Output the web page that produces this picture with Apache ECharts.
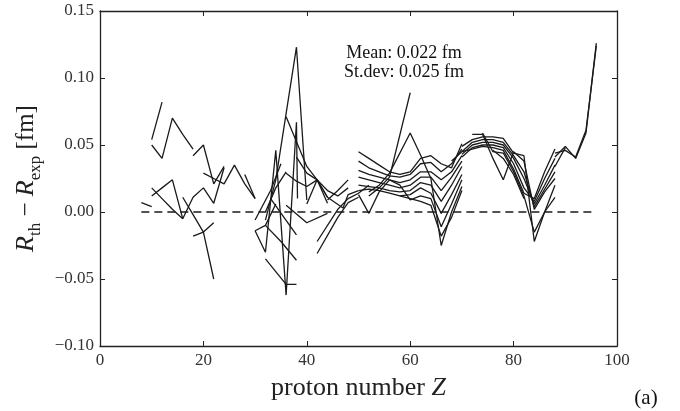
<!DOCTYPE html>
<html><head><meta charset="utf-8">
<script src="https://cdn.jsdelivr.net/npm/echarts/dist/echarts.min.js"></script>
<style>html,body{margin:0;padding:0;background:#fff}#c{width:680px;height:411px}</style>
</head><body><div id="c"></div>
<script>
// axis ranges / ticks
const xTicks = [0, 20, 40, 60, 80, 100];
const yTicks = [-0.10, -0.05, 0.00, 0.05, 0.10, 0.15];
const zeroLine = [[8, 0], [96, 0]];
const annotation = ['Mean: 0.022 fm', 'St.dev: 0.025 fm'];

// light nuclei chains [Z, R_th - R_exp]
const L01 = [[8,0.007],[10,0.004]];
const L02 = [[10,0.054],[12,0.082]];
const L03 = [[10,0.050],[12,0.040],[14,0.070],[16,0.058],[18,0.047]];
const L04 = [[18,0.042],[20,0.050],[22,0.021],[24,0.034]];
const L05 = [[10,0.012],[12,0.018],[14,0.024],[16,-0.005]];
const L06 = [[10,0.018],[12,0.010],[14,0.002],[16,-0.005]];
const L07 = [[16,-0.005],[18,0.011],[20,0.018],[22,0.0065],[24,0.033]];
const L08 = [[16,0.011],[18,-0.002],[20,-0.015],[22,-0.050]];
const L09 = [[18,-0.018],[20,-0.015],[22,-0.008]];
const L10 = [[20,0.029],[22,0.025],[24,0.021],[26,0.035],[28,0.021],[30,0.010]];
const L11 = [[28,0.028],[30,0.010]];

// medium region Z 30-52
const M01 = [[32,-0.006],[34,0.024],[38,0.123],[40,0.009]];
const M02 = [[30,-0.014],[32,-0.030],[34,0.046],[36,-0.062],[38,0.067],[38.2,0.010]];
const M03 = [[30,-0.014],[32,-0.010],[34,0.006]];
const M04 = [[36,-0.054],[38,-0.054]];
const M05 = [[32,-0.035],[36,-0.054]];
const M06 = [[33,0.010],[38,-0.017]];
const M07 = [[32,-0.010],[35,-0.022],[38,-0.036]];
const M08 = [[36,0.005],[40,-0.008],[44,-0.001]];
const M09 = [[36,0.071],[40,0.034],[42,0.024],[44,0.0065]];
const M10 = [[36,0.029],[38,0.023],[40,0.019],[42,0.024],[44,0.011]];
const M11 = [[30,-0.006],[33,0.016],[35,0.036]];
const M12 = [[38,0.041],[40,0.029],[42,0.024],[44,0.011],[47,0.003],[48,0.013],[50,0.016]];
const M13 = [[40,0.006],[42,0.024],[44,0.016],[46,0.012],[48,0.018]];
const M14 = [[44,0.009],[46,0.016],[48,0.024]];
const M15 = [[42,-0.022],[46,0.002],[48,0.010],[50,0.014],[52,0.020]];
const M16 = [[42,-0.031],[46,-0.004],[48,0.007],[50,0.011]];
const M17 = [[32,0.000],[34,0.018],[36,0.030]];

// bundle Z 50-70
const B01 = [[50,0.045],[52,0.040],[54,0.035],[56,0.030],[58,0.028],[60,0.030],[62,0.040],[64,0.042],[66,0.036],[68,0.033],[70,0.051]];
const B02 = [[50,0.038],[52,0.033],[54,0.030],[56,0.027],[58,0.026],[60,0.028],[62,0.036],[64,0.037],[66,0.030],[68,0.036],[70,0.047]];
const B03 = [[50,0.031],[52,0.028],[54,0.026],[56,0.024],[58,0.022],[60,0.024],[62,0.030],[64,0.030],[66,0.024],[68,0.030],[70,0.042]];
const B04 = [[50,0.026],[52,0.024],[54,0.022],[56,0.020],[58,0.018],[60,0.020],[62,0.026],[64,0.026],[66,0.016],[68,0.026],[70,0.038]];
const B05 = [[50,0.020],[52,0.019],[54,0.018],[56,0.016],[58,0.015],[60,0.016],[62,0.022],[64,0.020],[66,0.008],[68,0.020],[70,0.034]];
const B06 = [[50,0.016],[52,0.017],[54,0.016],[56,0.014],[58,0.012],[60,0.013],[62,0.018],[64,0.014],[66,-0.001],[68,0.013],[70,0.028]];
const B07 = [[50,0.013],[52,-0.001],[54,0.015],[56,0.024],[58,0.020],[60,0.009],[62,0.012],[64,0.010],[66,-0.011],[68,0.006],[70,0.024]];
const B08 = [[52,0.015],[54,0.020],[56,0.029],[60,0.059],[62,0.0425],[64,0.025],[66,-0.025],[68,0.000],[70,0.019]];
const B09 = [[52,0.012],[54,0.018],[56,0.026],[60,0.089]];
const B10 = [[58,0.012],[60,0.010],[62,0.008],[64,0.005],[66,-0.018],[68,-0.004],[70,0.016]];

// heavy region Z 68-96
const P01 = [[70,0.049],[72,0.054],[74,0.056],[76,0.056],[78,0.055],[80,0.044],[82,0.042],[84,-0.022],[86,0.000],[88,0.011]];
const P02 = [[72,0.058],[74,0.058],[76,0.040],[78,0.024],[80,0.045],[82,0.038],[84,0.002],[86,0.015],[88,0.025]];
const P03 = [[70,0.045],[72,0.052],[74,0.054],[76,0.054],[78,0.052],[80,0.042],[82,0.030],[84,0.004],[86,0.017],[88,0.030]];
const P04 = [[70,0.043],[72,0.050],[74,0.052],[76,0.052],[78,0.050],[80,0.040],[82,0.025],[84,0.006],[86,0.020],[88,0.035]];
const P05 = [[70,0.041],[72,0.048],[74,0.050],[76,0.050],[78,0.048],[80,0.036],[82,0.018],[84,0.008],[86,0.025],[88,0.040]];
const P06 = [[68,0.038],[70,0.045],[72,0.047],[74,0.049],[76,0.048],[78,0.046],[80,0.032],[82,0.014],[84,0.010],[86,0.030],[88,0.047]];
const P07 = [[74,0.059],[76,0.045],[78,0.044],[80,0.030],[82,0.012],[84,-0.015],[86,0.000],[88,0.020]];
const P08 = [[76,0.046],[78,0.040],[80,0.028],[82,0.010]];
const R01 = [[88,0.041],[90,0.049],[92,0.040],[94,0.059],[96,0.126]];
const R02 = [[88,0.044],[90,0.046],[92,0.041],[94,0.061],[96,0.124]];
const R03 = [[88,0.034],[90,0.048]];

const chains = [L01,L02,L03,L04,L05,L06,L07,L08,L09,L10,L11,
  M01,M02,M03,M04,M05,M06,M07,M08,M09,M10,M11,M12,M13,M14,M15,M16,M17,
  B01,B02,B03,B04,B05,B06,B07,B08,B09,B10,
  P01,P02,P03,P04,P05,P06,P07,P08,R01,R02,R03];

const ink = '#1a1a1a';
const serif = 'Liberation Serif';
const fmtY = v => Math.abs(v) < 1e-9 ? '0.00' : (v < 0 ? '\u2212' : '') + Math.abs(v).toFixed(2);

const axisCommon = {
  splitLine: {show: false},
  axisLine: {show: true, onZero: false, lineStyle: {color: '#222', width: 1.3}},
  axisTick: {show: true, inside: true, length: 5, lineStyle: {color: '#222', width: 1}}
};
const yMin = yTicks[0], yMax = yTicks[yTicks.length-1], yInt = yTicks[1]-yTicks[0];
const xMin = xTicks[0], xMax = xTicks[xTicks.length-1], xInt = xTicks[1]-xTicks[0];

const chart = echarts.init(document.getElementById('c'), null, {renderer: 'canvas'});
chart.setOption({
  animation: false,
  backgroundColor: '#fff',
  grid: {left: 100, right: 63, top: 11, bottom: 65, containLabel: false},
  xAxis: [
    Object.assign({type: 'value', min: xMin, max: xMax, interval: xInt, position: 'bottom',
      axisLabel: {fontFamily: serif, fontSize: 17, color: '#333', margin: 6},
      name: 'proton number {it|Z}', nameLocation: 'middle', nameGap: 29,
      nameTextStyle: {fontFamily: serif, fontSize: 26, color: '#222',
        rich: {it: {fontFamily: serif, fontSize: 26, fontStyle: 'italic', color: '#222'}}}
    }, axisCommon),
    Object.assign({type: 'value', min: xMin, max: xMax, interval: xInt, position: 'top',
      axisLabel: {show: false}}, axisCommon)
  ],
  yAxis: [
    Object.assign({type: 'value', min: yMin, max: yMax, interval: yInt, position: 'left',
      axisLabel: {fontFamily: serif, fontSize: 17, color: '#333', margin: 6, formatter: fmtY},
      name: '{it|R}{sub|th}{n| \u2212 }{it|R}{sub|exp}{n| [fm]}', nameLocation: 'middle', nameGap: 53, nameRotate: 90,
      nameTextStyle: {fontFamily: serif, fontSize: 25, color: '#222',
        rich: {
          it: {fontFamily: serif, fontSize: 26, fontStyle: 'italic', color: '#222', verticalAlign: 'bottom', padding: [0,0,5,0]},
          n: {fontFamily: serif, fontSize: 25, color: '#222', verticalAlign: 'bottom', padding: [0,0,5,0]},
          sub: {fontFamily: serif, fontSize: 17, color: '#222', verticalAlign: 'bottom'}
        }}
    }, axisCommon),
    Object.assign({type: 'value', min: yMin, max: yMax, interval: yInt, position: 'right',
      axisLabel: {show: false}}, axisCommon)
  ],
  series: chains.map(c => ({
    type: 'line', data: c, xAxisIndex: 0, yAxisIndex: 0, symbol: 'none', showSymbol: false,
    silent: true, lineStyle: {color: ink, width: 1.3}
  })).concat([{
    type: 'line', data: zeroLine, xAxisIndex: 0, yAxisIndex: 0, symbol: 'none', silent: true,
    lineStyle: {color: ink, width: 1.3, type: [8, 5]}
  }]),
  graphic: [
    {type: 'text', x: 404, y: 53, style: {text: annotation[0], font: '18px "Liberation Serif"', fill: '#111', align: 'center', verticalAlign: 'middle'}},
    {type: 'text', x: 404, y: 72, style: {text: annotation[1], font: '18px "Liberation Serif"', fill: '#111', align: 'center', verticalAlign: 'middle'}},
    {type: 'text', x: 646, y: 398, style: {text: '(a)', font: '21px "Liberation Serif"', fill: '#111', align: 'center', verticalAlign: 'middle'}}
  ]
});
</script>
</body></html>
